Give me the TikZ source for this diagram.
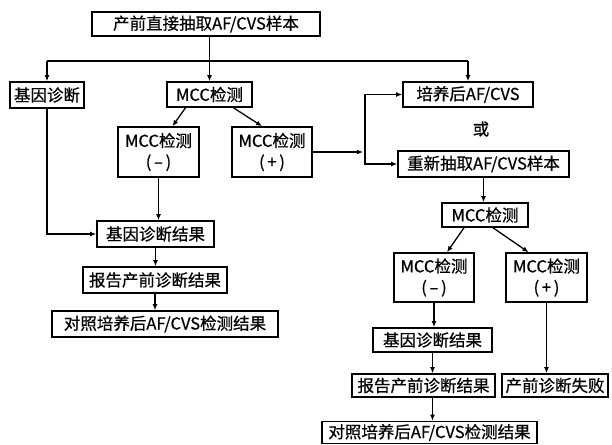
\documentclass[tikz,border=0pt]{standalone}
\usepackage{fontspec}
\setmainfont{Noto Sans CJK SC}[FakeBold=0.6]
\usetikzlibrary{arrows.meta}
\begin{document}
\begin{tikzpicture}[x=1pt,y=-1pt,
  box/.style={draw,line width=1.6pt,inner sep=0pt,align=center,font=\fontsize{16.5}{21}\selectfont},
  arr/.style={line width=1.3pt,-{Latex[length=6pt,width=5pt]}},
  ln/.style={line width=1.3pt}]
\useasboundingbox[fill=white] (0,0) rectangle (612,444);
% left half
\node[box,minimum width=228pt,minimum height=24pt] (A) at (206,24) {产前直接抽取AF/CVS样本};
\node[box,minimum width=74pt,minimum height=26pt] (B) at (47,95) {基因诊断};
\node[box,minimum width=85pt,minimum height=25pt] (C) at (209.5,94.5) {MCC检测};
\node[box,minimum width=130pt,minimum height=25pt] (D) at (468,94.5) {培养后AF/CVS};
\node[font=\fontsize{16.5}{21}\selectfont] (or) at (481,129) {或};
\node[box,minimum width=81pt,minimum height=50pt] (E) at (158.5,152) {MCC检测\\(\,–\,)};
\node[box,minimum width=80pt,minimum height=50pt] (F) at (272,152) {MCC检测\\(\,+\,)};
\node[box,minimum width=117pt,minimum height=26pt] (G) at (155.5,234) {基因诊断结果};
\node[box,minimum width=144pt,minimum height=26pt] (H) at (155,280) {报告产前诊断结果};
\node[box,minimum width=226pt,minimum height=26pt] (I) at (165,324) {对照培养后AF/CVS检测结果};
% right half
\node[box,minimum width=171pt,minimum height=26pt] (J) at (483.5,164) {重新抽取AF/CVS样本};
\node[box,minimum width=86pt,minimum height=24pt] (K) at (485,215) {MCC检测};
\node[box,minimum width=80pt,minimum height=49pt] (L) at (434,277.5) {MCC检测\\(\,–\,)};
\node[box,minimum width=81pt,minimum height=49pt] (M) at (546.5,277.5) {MCC检测\\(\,+\,)};
\node[box,minimum width=119pt,minimum height=24pt] (N) at (432.5,340) {基因诊断结果};
\node[box,minimum width=143pt,minimum height=23pt] (O) at (423.5,385.5) {报告产前诊断结果};
\node[box,minimum width=106pt,minimum height=23pt] (P) at (555,385.5) {产前诊断失败};
\node[box,minimum width=215pt,minimum height=22pt] (Q) at (429.5,432.5) {对照培养后AF/CVS检测结果};
% connectors
\coordinate (h) at (0,61);
\draw[arr] (C.north |- A.south) -- (C.north);
\draw[ln] (B.north |- h) -- (D.north |- h);
\draw[arr] (B.north |- h) -- (B.north);
\draw[arr] (D.north |- h) -- (D.north);
\draw[arr] ([xshift=-24pt]C.south) -- ([xshift=14pt]E.north);
\draw[arr] ([xshift=24pt]C.south) -- ([xshift=-10pt]F.north);
\draw[arr] (B.south) |- (G.west);
\draw[arr] (E.south) -- (E.south |- G.north);
\draw[arr] (G.south) -- (G.south |- H.north);
\draw[arr] (H.south) -- (H.south |- I.north);
\coordinate (v) at (365,152);
\draw[arr] (F.east) -- ([xshift=-2pt]v);
\draw[arr] (v) |- (D.west);
\draw[arr] (v) |- (J.west);
\draw[arr] (J.south) -- (J.south |- K.north);
\draw[arr] ([xshift=-21pt]K.south) -- ([xshift=13pt]L.north);
\draw[arr] ([xshift=8pt]K.south) -- ([xshift=-18pt]M.north);
\draw[arr] (L.south) -- (L.south |- N.north);
\draw[arr] (N.south) -- (N.south |- O.north);
\draw[arr] (N.south |- O.south) -- (N.south |- Q.north);
\draw[arr] (M.south) -- (M.south |- P.north);
\end{tikzpicture}
\end{document}
